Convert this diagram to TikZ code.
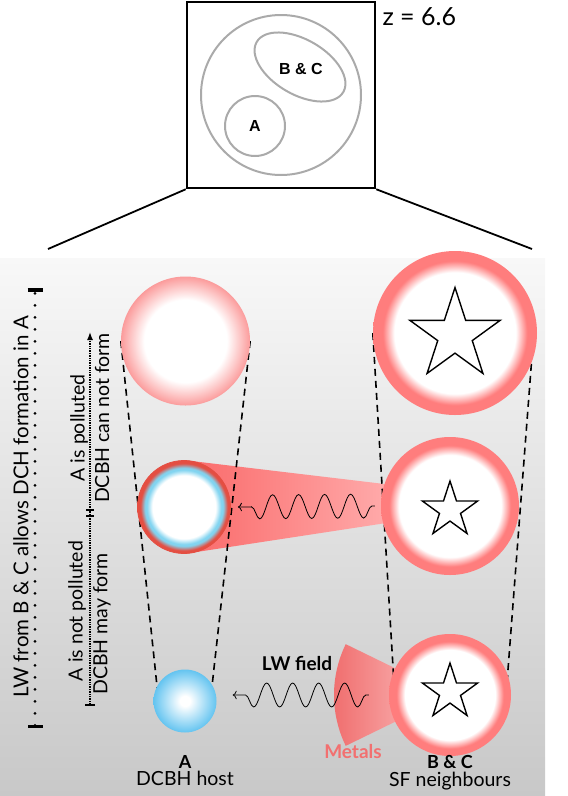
\documentclass[tikz,border=0pt]{standalone}
\usepackage{fontspec}
\setmainfont{Lato}
\newfontfamily\helv{Liberation Sans}
\usetikzlibrary{shapes.geometric,arrows.meta,decorations.pathmorphing,backgrounds,positioning}

\definecolor{haloGray}{RGB}{170,170,170}
\definecolor{softPink}{RGB}{251,150,150}
\definecolor{ringPink}{RGB}{255,125,125}
\definecolor{iceBlue}{RGB}{130,212,240}
\definecolor{rimRed}{RGB}{228,78,66}
\definecolor{skyBlue}{RGB}{100,196,240}
\definecolor{beamDark}{RGB}{250,105,105}
\definecolor{beamLight}{RGB}{255,172,172}
\definecolor{fanDark}{RGB}{240,108,108}
\definecolor{fanLight}{RGB}{252,200,200}
\definecolor{metalRed}{RGB}{242,112,112}
\definecolor{bgTop}{RGB}{248,248,248}
\definecolor{bgBottom}{RGB}{200,200,200}

\pgfdeclareradialshading{softball}{\pgfpoint{0bp}{0bp}}{color(0bp)=(white); color(16bp)=(white); color(25.5bp)=(softPink); color(50bp)=(softPink)}
\pgfdeclareradialshading{ringball}{\pgfpoint{0bp}{0bp}}{color(0bp)=(white); color(18.5bp)=(white); color(22bp)=(ringPink); color(50bp)=(ringPink)}
\pgfdeclareradialshading{pollutedball}{\pgfpoint{0bp}{0bp}}{color(0bp)=(white); color(17bp)=(white); color(20bp)=(iceBlue); color(21bp)=(iceBlue); color(23.5bp)=(rimRed); color(50bp)=(rimRed)}
\pgfdeclareradialshading{cleanball}{\pgfpoint{0bp}{0bp}}{color(0bp)=(white); color(4bp)=(white); color(25bp)=(skyBlue); color(50bp)=(skyBlue)}

\begin{document}
\begin{tikzpicture}[x=1pt, y=-1pt,
    guide/.style={dashed, dash pattern=on 7pt off 5pt, line width=1.6pt},
    halo/.style={draw=haloGray, line width=2pt, inner sep=0pt},
    ball/.style={circle, inner sep=0pt, shade},
    sfstar/.style={star, star points=5, star point ratio=2.618, draw, line width=1.4pt, inner sep=0pt},
    lwwave/.style={-{To[length=4pt]}, line width=0.8pt, decorate,
        decoration={snake, amplitude=12pt, segment length=26pt, pre length=3pt, post length=6pt}},
    sidetext/.style={rotate=90, font=\fontsize{19.5}{21}\selectfont},
    labeltext/.style={font=\fontsize{19.5}{21}\selectfont},
    nametext/.style={font=\bfseries\fontsize{18}{20}\selectfont}
]
    \useasboundingbox (0,0) rectangle (568,796);

    % Zoomed region at z = 6.6
    \node[draw, line width=2.5pt, minimum width=188pt, minimum height=186pt, inner sep=0pt] (zbox) at (281,95) {};
    \node[anchor=base west, font=\fontsize{25}{27}\selectfont] (zlabel) at (379,25) {z = 6.6};
    \node[halo, circle, minimum size=160pt] (halo) at (281,95) {};
    \node[halo, ellipse, minimum width=100pt, minimum height=55pt, rotate=-30] (subBC) at (300,67) {};
    \node[halo, circle, minimum size=60pt, font=\helv\bfseries\fontsize{16}{18}\selectfont] (subA) at (255,126) {A};
    \node[font=\helv\bfseries\fontsize{16}{18}\selectfont] (subBClabel) at (301,69) {B \& C};
    \coordinate (zoomL) at (48,249);
    \coordinate (zoomR) at (532,249);

    % Haloes: A (left) and B & C (right)
    \node[ball, shading=softball, minimum size=129pt] (atop) at (185.5,341) {};
    \node[ball, shading=ringball, minimum size=164pt] (bctop) at (455,333) {};
    \node[ball, shading=pollutedball, minimum size=93pt, draw=rimRed, line width=0.8pt] (amid) at (184,507) {};
    \node[ball, shading=ringball, minimum size=138pt] (bcmid) at (450,506) {};
    \node[ball, shading=cleanball, minimum size=63pt] (abot) at (185,701) {};
    \node[ball, shading=ringball, minimum size=122pt] (bcbot) at (450,695) {};

    % Stars
    \node[sfstar, minimum size=95pt] (startop) at (455,335) {};
    \node[sfstar, minimum size=58pt] (starmid) at (450,510) {};
    \node[sfstar, minimum size=58pt] (starbot) at (450,692) {};

    \begin{pgfonlayer}{background}
        \shade[top color=bgTop, bottom color=bgBottom] (0,258) rectangle (545,796);
        \draw[line width=1.8pt] (zbox.south west) -- (zoomL);
        \draw[line width=1.8pt] (zbox.south east) -- (zoomR);
        % Radiation beam and metal outflow
        \shade[left color=beamDark, right color=beamLight] (amid.north) -- ([shift={(12,-21)}]bcmid.west)
            -- ([shift={(12,16)}]bcmid.west) -- (amid.south) -- cycle;
        \shade[left color=fanDark, right color=fanLight] (bcbot.center) -- ([shift={(154:116)}]bcbot.center)
            arc[start angle=154, end angle=206, radius=116] -- cycle;
        % Guides
        \draw[guide] (atop.west) -- ([shift={(4,-12)}]abot.west);
        \draw[guide] (atop.east) -- ([shift={(-5,-12)}]abot.east);
        \draw[guide] (bctop.west) -- ([shift={(5,-15)}]bcbot.west);
        \draw[guide] ([shift={(-4,7)}]bctop.east) -- ([shift={(-4,-15)}]bcbot.east);
    \end{pgfonlayer}

    % LW field
    \draw[lwwave] ([xshift=-6pt]bcmid.west) -- ([xshift=7pt]amid.east);
    \draw[lwwave] ([xshift=-20pt]bcbot.west) -- ([shift={(16,-6)}]abot.east);
    \node[font=\bfseries\fontsize{19}{21}\selectfont] (lwlabel) at (297,663) {LW field};
    \node[font=\bfseries\fontsize{19}{21}\selectfont, text=metalRed] (metals) at (353,752) {Metals};

    % Names
    \node[nametext] (nameA) at (185,762) {A};
    \node[labeltext, below=-4pt of nameA] (roleA) {DCBH host};
    \node[nametext] (nameBC) at (450,762) {B \& C};
    \node[labeltext, below=-4pt of nameBC] (roleBC) {SF neighbours};

    % Left scale
    \coordinate (lwbot) at (35,728);
    \coordinate (lwtop) at (35,288);
    \draw[line width=3.2pt, line cap=round, dash pattern=on 0pt off 12pt,
        {Bar[width=15pt,line width=3.5pt]}-{Bar[width=15pt,line width=3.5pt]}] (lwbot) -- (lwtop);
    \node[rotate=90, font=\fontsize{20.5}{23}\selectfont] (lwtext) at (21,507) {LW from B \& C allows DCH formation in A};

    \coordinate (pollbot) at (90,706);
    \coordinate (polltop) at (90,332);
    \coordinate (split) at (90,513);
    \draw[line width=1.4pt, densely dotted, {Bar[width=10pt,line width=1.8pt]}-{Latex[length=8pt,width=6pt]}] (pollbot) -- (polltop);
    \draw[line width=1.6pt] ([shift={(-4,-3)}]split) -- ([shift={(4,-3)}]split)
        ([shift={(-4,3)}]split) -- ([shift={(4,3)}]split);
    \node[sidetext] (clean1) at (77,611) {A is not polluted};
    \node[sidetext] (clean2) at (102,624) {DCBH may form};
    \node[sidetext] (dirty1) at (79,428) {A is polluted};
    \node[sidetext] (dirty2) at (102,418) {DCBH can not form};
\end{tikzpicture}
\end{document}
